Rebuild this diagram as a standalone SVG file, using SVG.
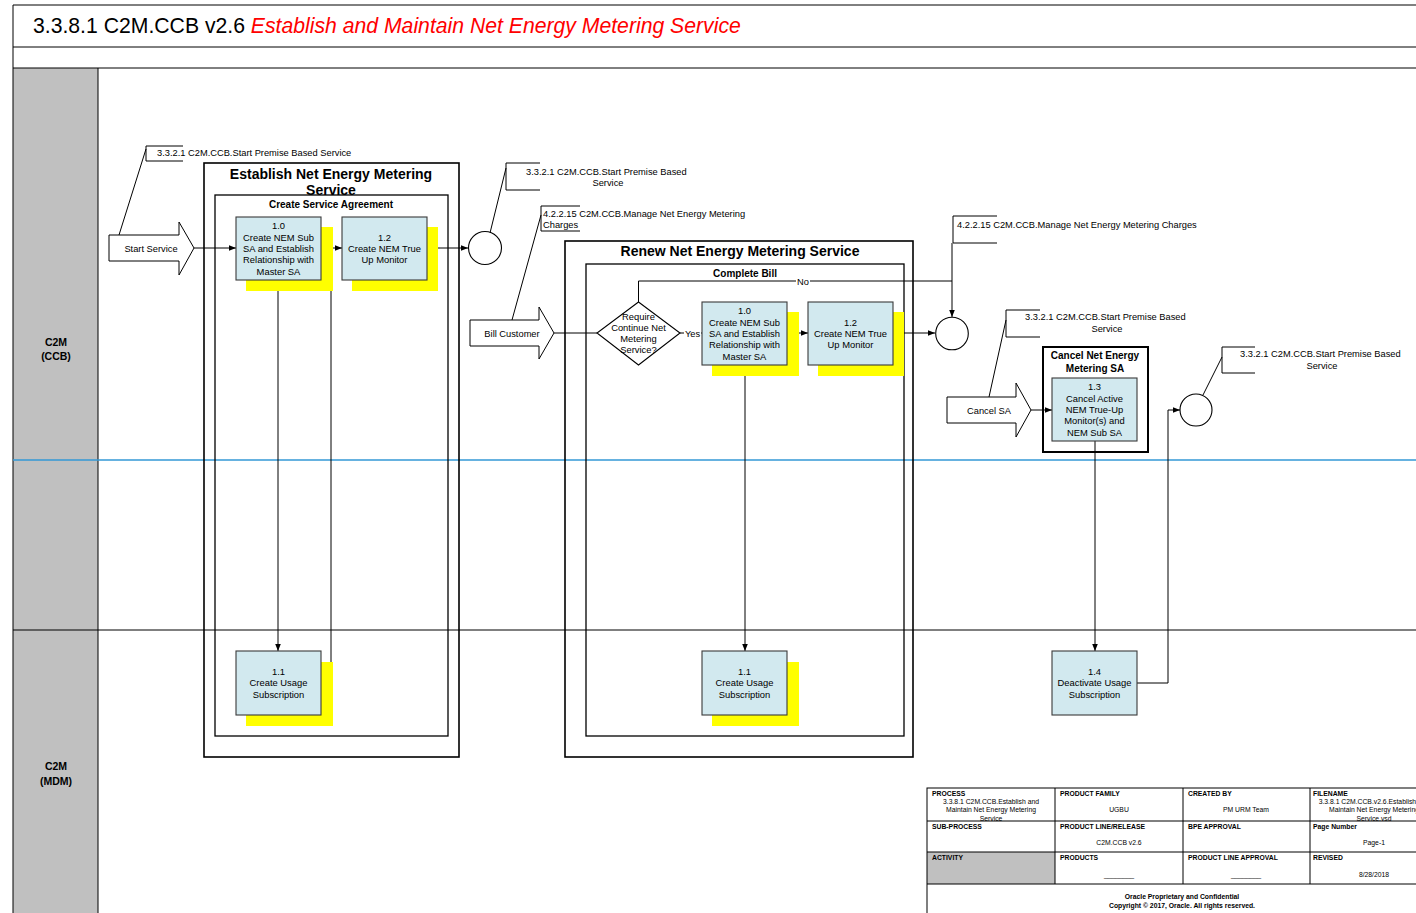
<svg xmlns="http://www.w3.org/2000/svg" width="1416" height="913" viewBox="0 0 1416 913">
<defs>
<style>
text{font-family:"Liberation Sans",Arial,sans-serif;fill:#000}
.t{font-size:9.4px;text-anchor:middle}
.a{font-size:9.3px}
.ac{font-size:9.3px;text-anchor:middle}
.gt{font-size:14px;font-weight:bold;text-anchor:middle}
.st{font-size:10px;font-weight:bold;text-anchor:middle}
.ln{font-size:10.5px;font-weight:bold;text-anchor:middle}
.fl{font-size:6.8px;font-weight:bold}
.fv{font-size:6.8px;text-anchor:middle}
.fc{font-size:6.8px;font-weight:bold;text-anchor:middle}
.box{fill:#d2e9ef;stroke:#3a3a3a;stroke-width:1.1}
.sh{fill:#ffff00}
.grp{fill:none;stroke:#000;stroke-width:1.6}
.igrp{fill:none;stroke:#000;stroke-width:1.3}
.c{fill:none;stroke:#000;stroke-width:1}
.br{fill:none;stroke:#000;stroke-width:1}
.blk{fill:#fff;stroke:#000;stroke-width:1}
.ev{fill:#fff;stroke:#000;stroke-width:1.1}
.fr{fill:none;stroke:#000;stroke-width:1}
</style>
<marker id="ah" viewBox="0 0 10 10" refX="10" refY="5" markerWidth="7" markerHeight="7" orient="auto" markerUnits="userSpaceOnUse">
<path d="M0,1 L10,5 L0,9 z" fill="#000"/>
</marker>
</defs>

<rect width="1416" height="913" fill="#fff"/>

<g id="frame">
<rect x="13" y="68" width="85" height="850" fill="#c0c0c0"/>
<path class="fr" d="M13,5 H1416 M13,5 V913 M13,47 H1416 M13,68 H1416 M98,68 V913"/>
<path d="M13,630 H1416" stroke="#000" stroke-width="1"/>
<path d="M13,460 H1416" stroke="#3399d6" stroke-width="1.5"/>
<text x="33" y="33" font-size="21.2">3.3.8.1 C2M.CCB v2.6 <tspan fill="#ff0000" font-style="italic">Establish and Maintain Net Energy Metering Service</tspan></text>
</g>

<g id="lane-ccb"><text class="ln" x="56" y="346">C2M</text><text class="ln" x="56" y="360">(CCB)</text></g>
<g id="lane-mdm"><text class="ln" x="56" y="770">C2M</text><text class="ln" x="56" y="785">(MDM)</text></g>

<g id="grp-establish">
<rect class="grp" x="204" y="163" width="255" height="594"/>
<rect class="igrp" x="215" y="195" width="233" height="541"/>
<text class="gt" x="331" y="179">Establish Net Energy Metering</text>
<text class="gt" x="331" y="195">Service</text>
<text class="st" x="331" y="208">Create Service Agreement</text>
</g>

<g id="grp-renew">
<rect class="grp" x="565" y="241" width="348" height="516"/>
<rect class="igrp" x="586" y="264" width="318" height="472"/>
<text class="gt" x="740" y="256">Renew Net Energy Metering Service</text>
<text class="st" x="745" y="277">Complete Bill</text>
</g>

<g id="grp-cancel">
<rect x="1043" y="347" width="105" height="105" fill="#fff" stroke="#000" stroke-width="2"/>
<text class="st" x="1095" y="359">Cancel Net Energy</text>
<text class="st" x="1095" y="372">Metering SA</text>
</g>

<g id="connectors">
<path class="c" d="M194,248 H236" marker-end="url(#ah)"/>
<path class="c" d="M426,248 H468" marker-end="url(#ah)"/>
<path class="c" d="M278,280 V651" marker-end="url(#ah)"/>
<path class="c" d="M321,683 H331 V248 H342" marker-end="url(#ah)"/>
<path class="c" d="M554,333 H597"/>
<path class="c" d="M680,333 H702"/>
<path class="c" d="M787,333 H808" marker-end="url(#ah)"/>
<path class="c" d="M893,333 H935" marker-end="url(#ah)"/>
<path class="c" d="M638.5,302 V281 H952 V317" marker-end="url(#ah)"/>
<path class="c" d="M952,243 V281"/>
<path class="c" d="M745,365 V651" marker-end="url(#ah)"/>
<path class="c" d="M1031,410 H1052" marker-end="url(#ah)"/>
<path class="c" d="M1095,441 V651" marker-end="url(#ah)"/>
<path class="c" d="M1137,683 H1168 V410 H1180" marker-end="url(#ah)"/>
<path class="c" d="M146,149 L119,235"/>
<path class="c" d="M506,168 L490,233"/>
<path class="c" d="M541,215 L512,320"/>
<path class="c" d="M1006,320 L989,397"/>
<path class="c" d="M1222,357 L1203,395"/>
<rect x="684" y="328" width="17" height="10" fill="#fff"/>
<text class="ac" x="692.5" y="336.5">Yes</text>
<rect x="796" y="276" width="14" height="10" fill="#fff"/>
<text class="ac" x="803" y="284.5">No</text>
</g>

<g id="start-service">
<path class="blk" d="M109,235 H179 V222 L194,248 L179,275 V261 H109 Z"/>
<text class="ac" x="151" y="252">Start Service</text>
</g>

<g id="bill-customer">
<path class="blk" d="M470,320 H539 V307 L554,333 L539,359 V346 H470 Z"/>
<text class="ac" x="512" y="337">Bill Customer</text>
</g>

<g id="cancel-sa">
<path class="blk" d="M947,397 H1016 V383 L1031,410 L1016,437 V423 H947 Z"/>
<text class="ac" x="989" y="414">Cancel  SA</text>
</g>

<g id="e-1-0">
<rect class="sh" x="246" y="227" width="87" height="64"/>
<rect class="box" x="236" y="217" width="85" height="63"/>
<text class="t" x="278.5" y="229.3">1.0</text>
<text class="t" x="278.5" y="240.6">Create NEM Sub</text>
<text class="t" x="278.5" y="251.9">SA and Establish</text>
<text class="t" x="278.5" y="263.2">Relationship with</text>
<text class="t" x="278.5" y="274.5">Master SA</text>
</g>

<g id="e-1-2">
<rect class="sh" x="352" y="227" width="86" height="64"/>
<rect class="box" x="342" y="217" width="85" height="63"/>
<text class="t" x="384.5" y="240.5">1.2</text>
<text class="t" x="384.5" y="251.8">Create NEM True</text>
<text class="t" x="384.5" y="263.1">Up Monitor</text>
</g>

<g id="e-1-1">
<rect class="sh" x="246" y="662" width="87" height="64"/>
<rect class="box" x="236" y="651" width="85" height="64"/>
<text class="t" x="278.5" y="675">1.1</text>
<text class="t" x="278.5" y="686.3">Create Usage</text>
<text class="t" x="278.5" y="697.6">Subscription</text>
</g>

<g id="e-end">
<circle class="ev" cx="485" cy="248" r="16.5"/>
</g>

<g id="r-decision">
<path class="ev" d="M638.5,302 L680,333 L638.5,365 L597,333 Z"/>
<text class="t" x="638.5" y="319.5">Require</text>
<text class="t" x="638.5" y="330.8">Continue Net</text>
<text class="t" x="638.5" y="342.1">Metering</text>
<text class="t" x="638.5" y="353.4">Service?</text>
</g>

<g id="r-1-0">
<rect class="sh" x="712" y="312" width="87" height="64"/>
<rect class="box" x="702" y="302" width="85" height="63"/>
<text class="t" x="744.5" y="314.3">1.0</text>
<text class="t" x="744.5" y="325.6">Create NEM Sub</text>
<text class="t" x="744.5" y="336.9">SA and Establish</text>
<text class="t" x="744.5" y="348.2">Relationship with</text>
<text class="t" x="744.5" y="359.5">Master SA</text>
</g>

<g id="r-1-2">
<rect class="sh" x="818" y="312" width="86" height="64"/>
<rect class="box" x="808" y="302" width="85" height="63"/>
<text class="t" x="850.5" y="325.5">1.2</text>
<text class="t" x="850.5" y="336.8">Create NEM True</text>
<text class="t" x="850.5" y="348.1">Up Monitor</text>
</g>

<g id="r-1-1">
<rect class="sh" x="712" y="662" width="87" height="64"/>
<rect class="box" x="702" y="651" width="85" height="64"/>
<text class="t" x="744.5" y="675">1.1</text>
<text class="t" x="744.5" y="686.3">Create Usage</text>
<text class="t" x="744.5" y="697.6">Subscription</text>
</g>

<g id="r-end">
<circle class="ev" cx="952" cy="333.5" r="16.3"/>
</g>

<g id="c-1-3">
<rect class="box" x="1052" y="378" width="85" height="63"/>
<text class="t" x="1094.5" y="390.4">1.3</text>
<text class="t" x="1094.5" y="401.7">Cancel Active</text>
<text class="t" x="1094.5" y="413">NEM True-Up</text>
<text class="t" x="1094.5" y="424.3">Monitor(s) and</text>
<text class="t" x="1094.5" y="435.6">NEM Sub SA</text>
</g>

<g id="c-1-4">
<rect class="box" x="1052" y="651" width="85" height="64"/>
<text class="t" x="1094.5" y="675">1.4</text>
<text class="t" x="1094.5" y="686.3">Deactivate Usage</text>
<text class="t" x="1094.5" y="697.6">Subscription</text>
</g>

<g id="c-end">
<circle class="ev" cx="1196" cy="410" r="16"/>
</g>

<g id="ann-1">
<path class="br" d="M183,146 H146 V161 H183"/>
<text class="a" x="157" y="156">3.3.2.1 C2M.CCB.Start Premise Based Service</text>
</g>
<g id="ann-2">
<path class="br" d="M540,163 H506 V190 H540"/>
<text class="a" x="526" y="175">3.3.2.1 C2M.CCB.Start Premise Based</text>
<text class="ac" x="608" y="186">Service</text>
</g>
<g id="ann-3">
<path class="br" d="M580,206 H541 V231 H580"/>
<text class="a" x="543" y="217">4.2.2.15 C2M.CCB.Manage Net Energy Metering</text>
<text class="a" x="543" y="228">Charges</text>
</g>
<g id="ann-4">
<path class="br" d="M997,216 H953 V243 H997"/>
<text class="a" x="957" y="228">4.2.2.15 C2M.CCB.Manage Net Energy Metering Charges</text>
</g>
<g id="ann-5">
<path class="br" d="M1040,310 H1006 V337 H1040"/>
<text class="a" x="1025" y="320">3.3.2.1 C2M.CCB.Start Premise Based</text>
<text class="ac" x="1107" y="332">Service</text>
</g>
<g id="ann-6">
<path class="br" d="M1255,347 H1222 V373 H1255"/>
<text class="a" x="1240" y="357">3.3.2.1 C2M.CCB.Start Premise Based</text>
<text class="ac" x="1322" y="369">Service</text>
</g>

<g id="footer">
<rect x="927" y="852" width="128" height="32" fill="#c0c0c0"/>
<rect x="927" y="788" width="530" height="140" fill="none" stroke="#000" stroke-width="1"/>
<path class="fr" d="M927,821 H1416 M927,852 H1416 M927,884 H1416 M1055,788 V884 M1183,788 V884 M1310,788 V884"/>
<text class="fl" x="932" y="796">PROCESS</text>
<text class="fv" x="991" y="803.5">3.3.8.1 C2M.CCB.Establish and</text>
<text class="fv" x="991" y="811.5">Maintain Net Energy Metering</text>
<text class="fv" x="991" y="820.5">Service</text>
<text class="fl" x="932" y="829">SUB-PROCESS</text>
<text class="fl" x="932" y="860">ACTIVITY</text>
<text class="fl" x="1060" y="796">PRODUCT FAMILY</text>
<text class="fv" x="1119" y="812">UGBU</text>
<text class="fl" x="1060" y="829">PRODUCT LINE/RELEASE</text>
<text class="fv" x="1119" y="845">C2M.CCB v2.6</text>
<text class="fl" x="1060" y="860">PRODUCTS</text>
<text class="fv" x="1119" y="877">________</text>
<text class="fl" x="1188" y="796">CREATED BY</text>
<text class="fv" x="1246" y="812">PM URM Team</text>
<text class="fl" x="1188" y="829">BPE APPROVAL</text>
<text class="fl" x="1188" y="860">PRODUCT LINE APPROVAL</text>
<text class="fv" x="1246" y="877">________</text>
<text class="fl" x="1313" y="796">FILENAME</text>
<text class="fv" x="1374" y="803.5">3.3.8.1 C2M.CCB.v2.6.Establish and</text>
<text class="fv" x="1374" y="811.5">Maintain Net Energy Metering</text>
<text class="fv" x="1374" y="820.5">Service.vsd</text>
<text class="fl" x="1313" y="829">Page Number</text>
<text class="fv" x="1374" y="845">Page-1</text>
<text class="fl" x="1313" y="860">REVISED</text>
<text class="fv" x="1374" y="877">8/28/2018</text>
<text class="fc" x="1182" y="899">Oracle Proprietary and Confidential</text>
<text class="fc" x="1182" y="908">Copyright © 2017, Oracle. All rights reserved.</text>
</g>
</svg>
